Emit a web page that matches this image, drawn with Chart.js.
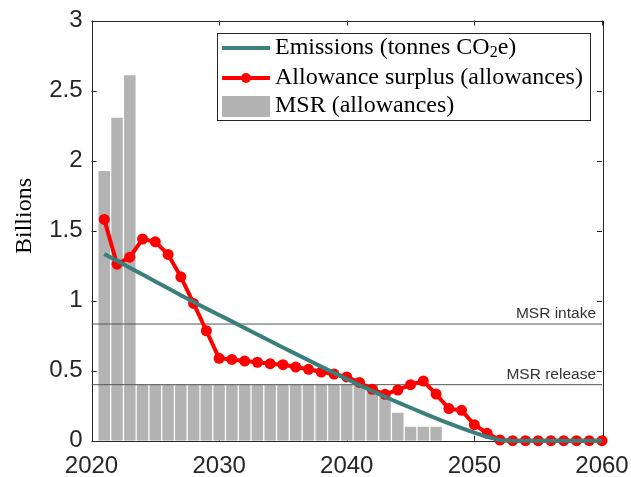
<!DOCTYPE html>
<html>
<head>
<meta charset="utf-8">
<script src="https://cdn.jsdelivr.net/npm/chart.js@4.4.0/dist/chart.umd.min.js"></script>
<style>
html, body { margin: 0; padding: 0; background: #fff; }
#wrap { width: 631px; height: 477px; }
</style>
</head>
<body>
<div id="wrap"><canvas id="chart" width="631" height="477"></canvas></div>
<script>
// years 2021..2060
const years = [2021, 2022, 2023, 2024, 2025, 2026, 2027, 2028, 2029, 2030,
               2031, 2032, 2033, 2034, 2035, 2036, 2037, 2038, 2039, 2040,
               2041, 2042, 2043, 2044, 2045, 2046, 2047, 2048, 2049, 2050,
               2051, 2052, 2053, 2054, 2055, 2056, 2057, 2058, 2059, 2060];

// billions
const emissions = [1.333, 1.284, 1.235, 1.186, 1.137, 1.088, 1.039, 0.990, 0.943, 0.897,
                   0.852, 0.805, 0.758, 0.712, 0.666, 0.620, 0.574, 0.529, 0.484, 0.440,
                   0.397, 0.355, 0.314, 0.274, 0.235, 0.197, 0.160, 0.124, 0.090, 0.058,
                   0.028, 0.003, 0, 0, 0, 0, 0, 0, 0, 0];

const surplus = [1.58, 1.26, 1.31, 1.44, 1.42, 1.33, 1.17, 0.98, 0.785, 0.588,
                 0.58, 0.569, 0.56, 0.55, 0.543, 0.526, 0.51, 0.49, 0.476, 0.455,
                 0.416, 0.367, 0.331, 0.362, 0.40, 0.426, 0.333, 0.229, 0.217, 0.114,
                 0.053, 0.005, 0, 0, 0, 0, 0, 0, 0, 0];

const msr = [1.925, 2.305, 2.61, 0.4, 0.4, 0.4, 0.4, 0.4, 0.4, 0.4,
             0.4, 0.4, 0.4, 0.4, 0.4, 0.4, 0.4, 0.4, 0.4, 0.4,
             0.4, 0.4, 0.33, 0.20, 0.10, 0.10, 0.10, 0, 0, 0,
             0, 0, 0, 0, 0, 0, 0, 0, 0, 0];

const intakeLevel = 0.833;
const releaseLevel = 0.4;

const xTicks = [2020, 2030, 2040, 2050, 2060];
const yTicks = [0, 0.5, 1, 1.5, 2, 2.5, 3];
const yTickLabels = ["0", "0.5", "1", "1.5", "2", "2.5", "3"];

const teal = "#3b7f7c";
const red = "#ff0000";
const grey = "#b3b3b3";
const axisColor = "#262626";

const pts = arr => years.map((y, i) => ({ x: y, y: arr[i] }));
const hline = v => [{ x: xTicks[0], y: v }, { x: xTicks[xTicks.length - 1], y: v }];

// box, inward ticks, y title, reference labels, legend
const decor = {
    id: 'decor',
    beforeDatasetsDraw(chart) {
        const ctx = chart.ctx;
        const a = chart.chartArea;
        const xs = chart.scales.x, ys = chart.scales.y;
        ctx.save();
        ctx.strokeStyle = axisColor;
        ctx.lineWidth = 1;
        ctx.strokeRect(Math.round(a.left) + 0.5, Math.round(a.top) + 0.5,
                       Math.round(a.right - a.left), Math.round(a.bottom - a.top));
        ctx.beginPath();
        xTicks.forEach(v => {
            const px = Math.round(xs.getPixelForValue(v)) + 0.5;
            ctx.moveTo(px, a.bottom); ctx.lineTo(px, a.bottom - 5);
            ctx.moveTo(px, a.top); ctx.lineTo(px, a.top + 5);
        });
        yTicks.forEach(v => {
            const py = Math.round(ys.getPixelForValue(v)) + 0.5;
            ctx.moveTo(a.left, py); ctx.lineTo(a.left + 5, py);
            ctx.moveTo(a.right, py); ctx.lineTo(a.right - 5, py);
        });
        ctx.stroke();
        ctx.restore();
    },
    afterDraw(chart) {
        const ctx = chart.ctx;
        const a = chart.chartArea;
        const ys = chart.scales.y;
        ctx.save();

        // y title
        ctx.fillStyle = "#000";
        ctx.font = "24px 'Liberation Serif'";
        ctx.textAlign = "center";
        ctx.textBaseline = "middle";
        ctx.translate(25, 216);
        ctx.rotate(-Math.PI / 2);
        ctx.fillText("Billions", 0, 0);
        ctx.setTransform(1, 0, 0, 1, 0, 0);

        // reference line labels
        ctx.fillStyle = "#333";
        ctx.font = "15.5px 'Liberation Sans'";
        ctx.textAlign = "right";
        ctx.textBaseline = "alphabetic";
        ctx.fillText("MSR intake", a.right - 6, ys.getPixelForValue(intakeLevel) - 6);
        ctx.fillText("MSR release", a.right - 6, ys.getPixelForValue(releaseLevel) - 6);

        // legend
        const lx = 217, ly = 33, lw = 373, lh = 87;
        ctx.fillStyle = "#fff";
        ctx.fillRect(lx, ly, lw, lh);
        ctx.strokeStyle = axisColor;
        ctx.lineWidth = 1;
        ctx.strokeRect(lx + 0.5, ly + 0.5, lw, lh);

        const sx0 = 222, sx1 = 270, tx = 275;
        const rows = [48, 78, 106];

        ctx.lineCap = "butt";
        ctx.strokeStyle = teal; ctx.lineWidth = 4;
        ctx.beginPath(); ctx.moveTo(sx0, rows[0]); ctx.lineTo(sx1, rows[0]); ctx.stroke();
        ctx.strokeStyle = red;
        ctx.beginPath(); ctx.moveTo(sx0, rows[1]); ctx.lineTo(sx1, rows[1]); ctx.stroke();
        ctx.fillStyle = red;
        ctx.beginPath(); ctx.arc((sx0 + sx1) / 2, rows[1], 5, 0, Math.PI * 2); ctx.fill();
        ctx.fillStyle = grey;
        ctx.fillRect(sx0, 96, sx1 - sx0, 21);

        ctx.fillStyle = "#000";
        ctx.textAlign = "left";
        ctx.textBaseline = "middle";
        const f = "24px 'Liberation Serif'";
        ctx.font = f;
        let t = "Emissions (tonnes CO";
        ctx.fillText(t, tx, rows[0]);
        let w = ctx.measureText(t).width;
        ctx.font = "16px 'Liberation Serif'";
        ctx.fillText("2", tx + w, rows[0] + 5);
        w += ctx.measureText("2").width;
        ctx.font = f;
        ctx.fillText("e)", tx + w, rows[0]);
        ctx.fillText("Allowance surplus (allowances)", tx, rows[1]);
        ctx.fillText("MSR (allowances)", tx, rows[2]);

        ctx.restore();
    }
};

new Chart(document.getElementById('chart'), {
    type: 'bar',
    data: {
        datasets: [
            {
                type: 'line',
                label: 'Emissions (tonnes CO2e)',
                data: pts(emissions),
                borderColor: teal,
                borderWidth: 4,
                pointRadius: 0,
                tension: 0,
                clip: false,
                order: 0
            },
            {
                type: 'line',
                label: 'Allowance surplus (allowances)',
                data: pts(surplus),
                borderColor: red,
                backgroundColor: red,
                borderWidth: 4,
                pointRadius: 5.5,
                pointBorderWidth: 0,
                pointBackgroundColor: red,
                tension: 0,
                clip: false,
                order: 1
            },
            {
                type: 'line',
                label: 'MSR intake',
                data: hline(intakeLevel),
                borderColor: "#555",
                borderWidth: 1,
                pointRadius: 0,
                order: 2
            },
            {
                type: 'line',
                label: 'MSR release',
                data: hline(releaseLevel),
                borderColor: "#555",
                borderWidth: 1,
                pointRadius: 0,
                order: 2
            },
            {
                type: 'bar',
                label: 'MSR (allowances)',
                data: pts(msr),
                backgroundColor: grey,
                borderWidth: 0,
                barPercentage: 0.9,
                categoryPercentage: 1,
                order: 3
            }
        ]
    },
    options: {
        responsive: false,
        animation: false,
        layout: { padding: { left: 0, right: 29, top: 20.5, bottom: 0 } },
        plugins: {
            legend: { display: false },
            tooltip: { enabled: false }
        },
        scales: {
            x: {
                type: 'linear',
                min: 2020,
                max: 2060,
                offset: false,
                grid: { display: false, drawTicks: false },
                border: { display: false },
                afterBuildTicks: s => { s.ticks = xTicks.map(v => ({ value: v })); },
                afterFit: s => { s.height = 36.3; s.paddingLeft = 0; s.paddingRight = 0; },
                ticks: {
                    autoSkip: false,
                    maxRotation: 0,
                    padding: 11,
                    color: axisColor,
                    font: { family: "'Liberation Sans'", size: 24 },
                    callback: v => String(v)
                }
            },
            y: {
                min: 0,
                max: 3,
                grid: { display: false, drawTicks: false },
                border: { display: false },
                afterBuildTicks: s => { s.ticks = yTicks.map(v => ({ value: v })); },
                afterFit: s => { s.width = 91.5; s.paddingTop = 0; s.paddingBottom = 0; },
                ticks: {
                    padding: 9,
                    color: axisColor,
                    font: { family: "'Liberation Sans'", size: 24 },
                    callback: (v, i) => yTickLabels[i]
                }
            }
        }
    },
    plugins: [decor]
});
</script>
</body>
</html>
